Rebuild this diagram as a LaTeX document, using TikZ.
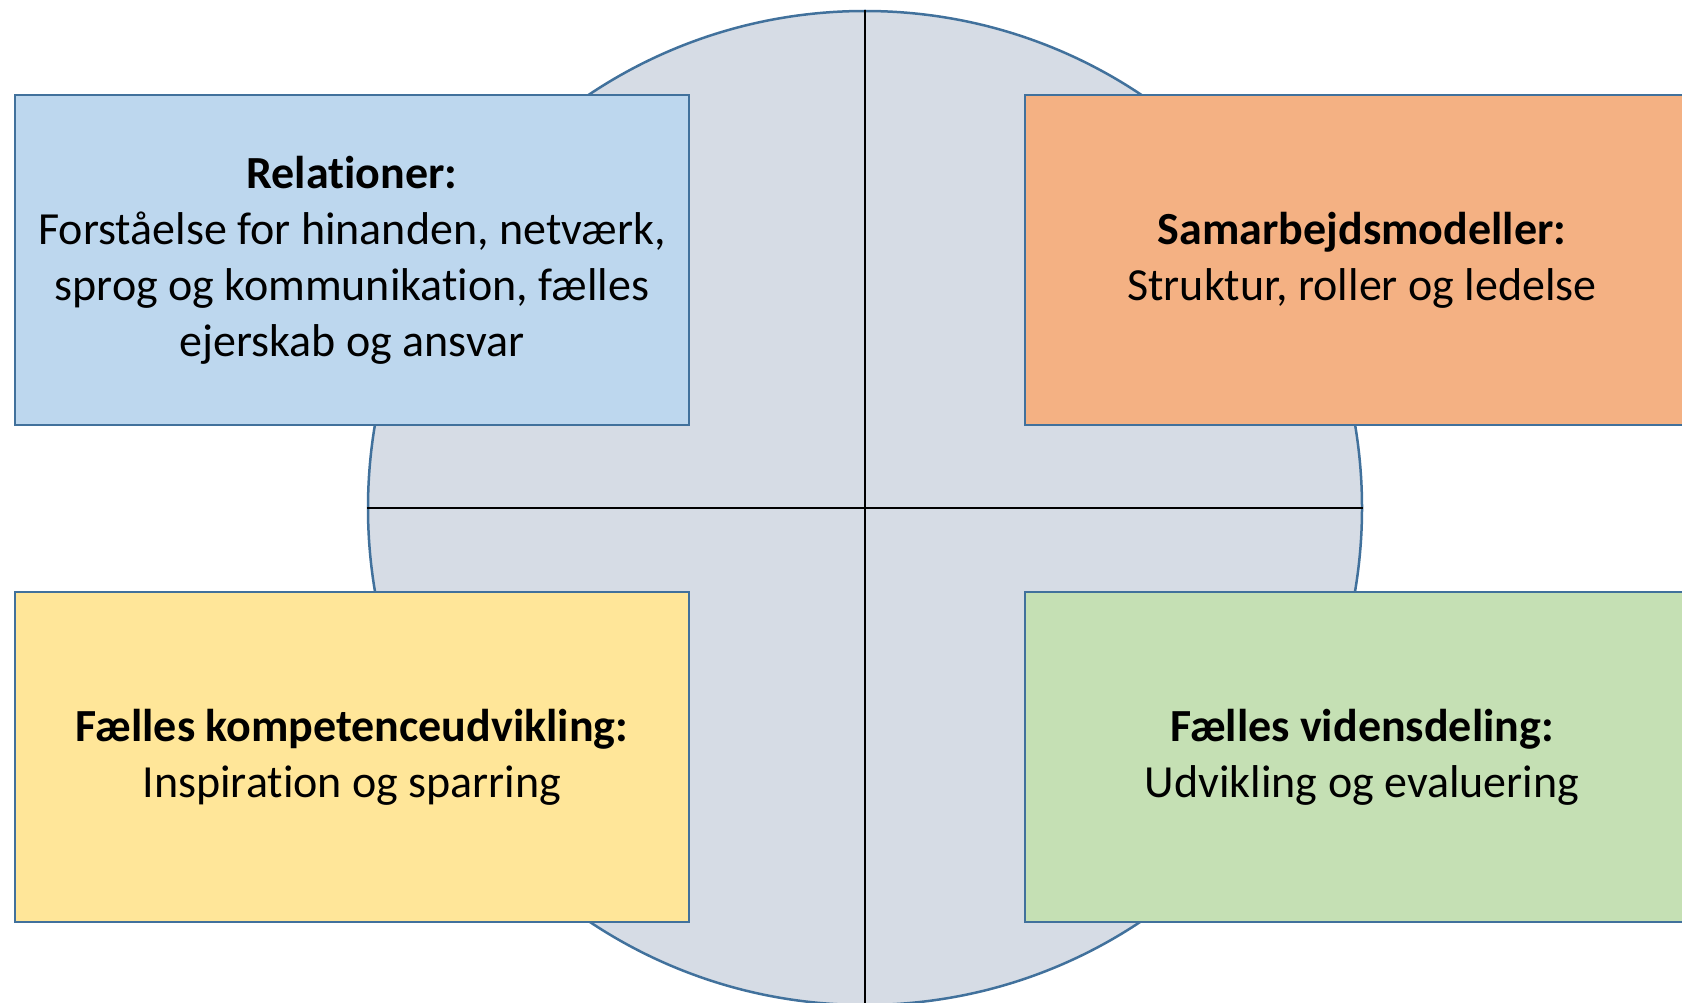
\documentclass[tikz,border=0pt]{standalone}
\usepackage{fontspec}
\setmainfont{Carlito}[Ligatures=NoCommon]
\definecolor{diskfill}{HTML}{D6DCE5}
\definecolor{edge}{HTML}{41719C}
\definecolor{relfill}{HTML}{BDD7EE}
\definecolor{samfill}{HTML}{F4B183}
\definecolor{kompfill}{HTML}{FFE699}
\definecolor{videnfill}{HTML}{C5E0B4}
\begin{document}
\begin{tikzpicture}[
                        x=1pt, y=-1pt,
                        font=\fontsize{46}{56}\selectfont,
                        block/.style={rectangle, draw=edge, line width=2pt, minimum width=674pt, minimum height=330pt, align=center, inner sep=0pt, execute at begin node={\rule{0pt}{42pt}}}
                    ]
                    \clip (0,0) rectangle (1682,1003);
                    % Disk
                    \node [circle, draw=edge, fill=diskfill, line width=2.5pt, minimum size=994pt, inner sep=0pt] (disk) at (865,508) {};
                    \draw [line width=1.3pt] (disk.north) -- (disk.south);
                    \draw [line width=1.3pt] (disk.west) -- (disk.east);

                    % Blocks
                    \node [block, fill=relfill] (rel) at (352,260) {\textbf{Relationer:}\\Forståelse for hinanden, netværk,\\sprog og kommunikation, fælles\\ejerskab og ansvar};
                    \node [block, fill=samfill] (sam) at (1362,260) {\textbf{Samarbejdsmodeller:}\\Struktur, roller og ledelse};
                    \node [block, fill=kompfill] (komp) at (352,757) {\textbf{Fælles kompetenceudvikling:}\\Inspiration og sparring};
                    \node [block, fill=videnfill] (viden) at (1362,757) {\textbf{Fælles vidensdeling:}\\Udvikling og evaluering};
                \end{tikzpicture}
\end{document}
